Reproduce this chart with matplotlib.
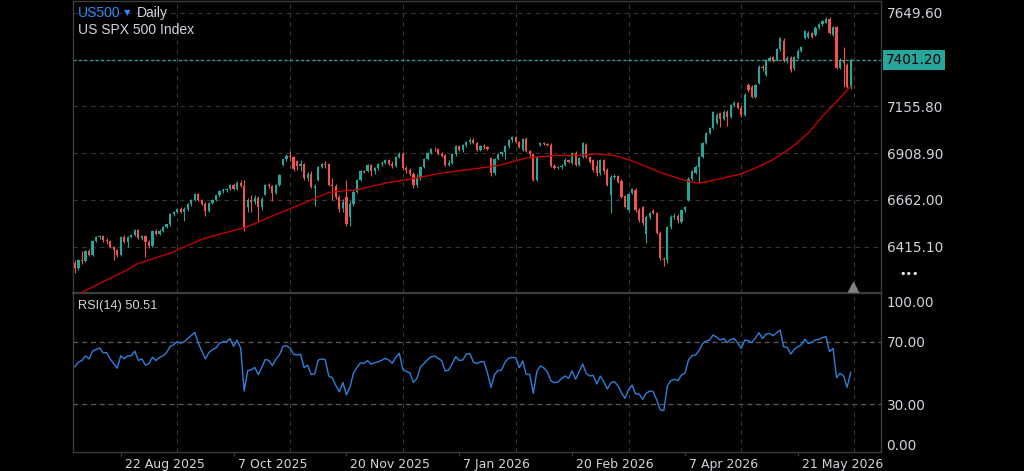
import numpy as np
import matplotlib.pyplot as plt
from matplotlib.transforms import ScaledTranslation, blended_transform_factory

# daily candles, US500 (one row = 10 sessions)
opens = [6330, 6300, 6345, 6340, 6390, 6373, 6446, 6466, 6469, 6450,
         6446, 6411, 6396, 6370, 6467, 6440, 6466, 6478, 6502, 6460,
         6470, 6440, 6420, 6500, 6482, 6500, 6520, 6532, 6585, 6598,
         6615, 6600, 6615, 6638, 6662, 6692, 6660, 6640, 6605, 6645,
         6662, 6685, 6708, 6715, 6718, 6742, 6720, 6752, 6736, 6625,
         6660, 6650, 6672, 6622, 6690, 6740, 6735, 6700, 6741, 6847,
         6876, 6892, 6888, 6865, 6842, 6852, 6775, 6800, 6725, 6768,
         6835, 6850, 6852, 6738, 6735, 6676, 6620, 6678, 6572, 6640,
         6705, 6766, 6815, 6812, 6845, 6812, 6828, 6850, 6857, 6872,
         6852, 6842, 6888, 6905, 6830, 6818, 6800, 6738, 6775, 6835,
         6878, 6910, 6932, 6928, 6906, 6900, 6847, 6858, 6902, 6945,
         6925, 6950, 6966, 6980, 6964, 6927, 6944, 6940, 6884, 6805,
         6876, 6905, 6912, 6945, 6978, 6992, 6965, 6925, 6985, 6918,
         6902, 6768, 6950, 6964, 6955, 6953, 6842, 6831, 6834, 6847,
         6874, 6858, 6911, 6847, 6889, 6953, 6889, 6874, 6840, 6805,
         6870, 6821, 6685, 6784, 6789, 6763, 6683, 6609, 6699, 6712,
         6609, 6625, 6480, 6572, 6604, 6593, 6487, 6350, 6345, 6519,
         6572, 6577, 6545, 6609, 6662, 6773, 6805, 6837, 6889, 6964,
         7016, 7040, 7069, 7122, 7091, 7128, 7101, 7165, 7175, 7149,
         7112, 7270, 7260, 7207, 7281, 7366, 7323, 7403, 7418, 7403,
         7456, 7503, 7403, 7413, 7360, 7413, 7450, 7519, 7524, 7545,
         7535, 7572, 7588, 7598, 7619, 7535, 7577, 7360, 7403, 7376,
         7260]
highs = [6345, 6350, 6390, 6398, 6400, 6450, 6472, 6478, 6476, 6458,
         6450, 6418, 6402, 6472, 6475, 6472, 6484, 6508, 6506, 6478,
         6476, 6448, 6505, 6508, 6506, 6526, 6536, 6590, 6605, 6620,
         6625, 6625, 6645, 6668, 6700, 6700, 6668, 6648, 6652, 6668,
         6690, 6712, 6722, 6725, 6748, 6750, 6760, 6765, 6765, 6672,
         6685, 6690, 6680, 6675, 6745, 6752, 6740, 6748, 6800, 6880,
         6905, 6922, 6895, 6872, 6870, 6858, 6810, 6812, 6745, 6840,
         6855, 6865, 6858, 6778, 6745, 6685, 6665, 6768, 6655, 6712,
         6772, 6820, 6822, 6852, 6850, 6838, 6858, 6865, 6880, 6878,
         6865, 6895, 6915, 6912, 6840, 6830, 6810, 6800, 6840, 6885,
         6915, 6938, 6940, 6935, 6912, 6905, 6870, 6908, 6950, 6952,
         6955, 6972, 6990, 6988, 6970, 6952, 6955, 6945, 6890, 6885,
         6910, 6920, 6952, 6985, 7000, 6998, 6972, 6990, 6992, 6925,
         6908, 6895, 6970, 6970, 6962, 6960, 6850, 6840, 6850, 6885,
         6880, 6915, 6918, 6890, 6970, 6960, 6895, 6880, 6872, 6878,
         6880, 6830, 6792, 6800, 6795, 6770, 6690, 6700, 6725, 6725,
         6620, 6632, 6580, 6600, 6612, 6600, 6495, 6360, 6525, 6580,
         6590, 6585, 6615, 6632, 6780, 6822, 6845, 6895, 6970, 7022,
         7046, 7132, 7118, 7128, 7135, 7135, 7170, 7182, 7180, 7155,
         7225, 7280, 7268, 7276, 7372, 7372, 7408, 7420, 7424, 7462,
         7520, 7515, 7420, 7420, 7424, 7456, 7477, 7558, 7552, 7550,
         7578, 7594, 7610, 7630, 7628, 7582, 7582, 7410, 7470, 7385,
         7410]
lows = [6275, 6290, 6325, 6335, 6365, 6368, 6438, 6455, 6440, 6430,
        6405, 6345, 6360, 6365, 6436, 6415, 6458, 6470, 6455, 6452,
        6362, 6410, 6415, 6475, 6476, 6494, 6512, 6525, 6576, 6590,
        6594, 6550, 6605, 6630, 6655, 6655, 6635, 6575, 6598, 6640,
        6655, 6678, 6700, 6705, 6712, 6712, 6715, 6728, 6500, 6600,
        6600, 6640, 6545, 6610, 6685, 6725, 6655, 6695, 6735, 6840,
        6868, 6865, 6815, 6820, 6815, 6765, 6760, 6725, 6632, 6760,
        6828, 6830, 6735, 6660, 6665, 6600, 6600, 6522, 6525, 6632,
        6700, 6760, 6803, 6808, 6790, 6800, 6822, 6842, 6850, 6845,
        6830, 6835, 6882, 6820, 6805, 6790, 6725, 6728, 6768, 6830,
        6872, 6905, 6920, 6900, 6890, 6840, 6840, 6850, 6895, 6918,
        6915, 6942, 6958, 6958, 6920, 6920, 6932, 6925, 6790, 6795,
        6870, 6895, 6880, 6938, 6970, 6960, 6935, 6918, 6912, 6895,
        6760, 6760, 6945, 6950, 6945, 6835, 6825, 6826, 6825, 6840,
        6855, 6850, 6840, 6840, 6882, 6885, 6855, 6810, 6790, 6795,
        6800, 6735, 6595, 6770, 6750, 6672, 6618, 6600, 6692, 6600,
        6545, 6530, 6435, 6560, 6585, 6480, 6345, 6315, 6330, 6510,
        6560, 6540, 6540, 6600, 6655, 6768, 6800, 6752, 6882, 6958,
        7010, 7035, 7060, 7048, 7085, 7050, 7095, 7158, 7140, 7100,
        7105, 7230, 7200, 7200, 7275, 7340, 7318, 7395, 7390, 7396,
        7450, 7390, 7385, 7335, 7345, 7408, 7445, 7512, 7518, 7515,
        7528, 7566, 7582, 7594, 7540, 7528, 7352, 7352, 7260, 7250,
        7245]
closes = [6300, 6345, 6340, 6390, 6373, 6446, 6466, 6469, 6450, 6446,
          6411, 6396, 6370, 6467, 6440, 6466, 6478, 6502, 6460, 6470,
          6440, 6420, 6500, 6482, 6500, 6520, 6532, 6585, 6598, 6615,
          6600, 6615, 6638, 6662, 6692, 6660, 6640, 6605, 6645, 6662,
          6685, 6708, 6715, 6718, 6742, 6720, 6752, 6736, 6515, 6660,
          6650, 6672, 6622, 6668, 6740, 6735, 6700, 6741, 6794, 6876,
          6892, 6888, 6825, 6842, 6852, 6775, 6800, 6732, 6735, 6835,
          6850, 6846, 6740, 6733, 6676, 6612, 6648, 6532, 6640, 6705,
          6766, 6815, 6810, 6845, 6812, 6828, 6850, 6857, 6872, 6852,
          6842, 6888, 6905, 6830, 6818, 6800, 6738, 6775, 6835, 6878,
          6910, 6932, 6928, 6906, 6896, 6847, 6858, 6902, 6945, 6925,
          6950, 6966, 6980, 6964, 6927, 6944, 6940, 6930, 6805, 6876,
          6905, 6912, 6945, 6978, 6992, 6965, 6940, 6985, 6918, 6902,
          6768, 6889, 6964, 6955, 6950, 6842, 6831, 6834, 6842, 6874,
          6862, 6911, 6847, 6884, 6964, 6889, 6863, 6821, 6805, 6870,
          6812, 6741, 6784, 6790, 6757, 6678, 6625, 6694, 6720, 6610,
          6558, 6540, 6572, 6593, 6593, 6487, 6355, 6342, 6519, 6572,
          6577, 6556, 6609, 6625, 6773, 6815, 6837, 6889, 6964, 7016,
          7040, 7125, 7112, 7091, 7128, 7101, 7165, 7175, 7149, 7112,
          7217, 7244, 7207, 7270, 7366, 7356, 7403, 7413, 7397, 7456,
          7514, 7397, 7410, 7350, 7418, 7450, 7471, 7551, 7545, 7524,
          7572, 7588, 7604, 7619, 7545, 7577, 7360, 7403, 7387, 7260,
          7401.2]

# moving average (session index, value)
ma_days = [0, 8, 13, 18, 27, 36, 49, 58, 65, 72, 77, 80, 89, 94, 104, 115,
           121, 128, 136, 143, 148, 153, 158, 167, 174, 177, 184, 189, 193,
           198, 203, 208, 212, 217, 220]
ma_vals = [6155, 6230, 6274, 6327, 6380, 6454, 6521, 6592, 6645, 6701, 6711,
           6715, 6754, 6768, 6803, 6830, 6847, 6883, 6896, 6896, 6905, 6896,
           6868, 6800, 6759, 6750, 6777, 6800, 6830, 6874, 6935, 7015, 7103,
           7200, 7262]

rsi = [54, 57, 58, 61, 59, 64, 65, 66, 63, 63,
       59, 56, 53, 61, 59, 61, 61, 64, 58, 59,
       55, 56, 60, 58, 60, 61, 63, 67, 68, 70,
       69, 70, 72, 74, 76, 69, 64, 59, 63, 65,
       66, 69, 70, 70, 72, 67, 71, 66, 38.5, 51.5,
       52, 53.6, 49, 53.6, 58.7, 58, 54.7, 58.9, 61.5, 67,
       67.4, 66, 62, 61.5, 62, 53.4, 55, 49, 49.4, 58.3,
       59, 58.5, 48, 47, 42, 38, 44, 36, 41, 50,
       53.5, 56.5, 56.2, 57.9, 55.7, 56.5, 57.2, 58.1, 59.4, 58.3,
       56.2, 60, 62.6, 52.3, 51, 50, 44, 46.6, 54, 56,
       58.5, 60.4, 60.8, 59.5, 57.9, 51.3, 51.9, 56, 60.4, 58,
       58.3, 62, 62.5, 57, 56, 57.2, 57.2, 50, 40.8, 49,
       51.6, 51.9, 57, 59.5, 60, 59.8, 53.4, 57.7, 49.1, 49.1,
       37, 51, 54.5, 53.3, 50.5, 45, 43.8, 44.2, 46.5, 48.1,
       46.6, 51.3, 46, 51, 55.7, 49.8, 48.1, 48.5, 43, 48,
       44.5, 39.8, 43.8, 44.5, 41.9, 37.4, 33.8, 39.1, 42.3, 36.6,
       36.6, 33.2, 37, 38.5, 38.1, 32.8, 26.4, 26, 41.7, 45.1,
       46, 45.1, 48.7, 49.8, 58.3, 61.1, 61.5, 64.3, 68.9, 70.4,
       71.1, 74.3, 72.8, 71.1, 72.1, 69.4, 71.5, 72.1, 68.9, 65.7,
       71.1, 70.6, 69.4, 72.6, 75.7, 72.1, 74.9, 75.3, 73.8, 75.7,
       77.4, 66.8, 66.4, 62.1, 65.1, 66.8, 67.9, 71.5, 68.9, 69.6,
       71.1, 71.5, 72.6, 73.2, 63.6, 65.7, 47, 49.8, 48.1, 40.8,
       50.51]

price_ticks = [6415.1, 6662.0, 6908.9, 7155.8, 7402.7, 7649.6]
rsi_ticks = [0, 30, 70, 100]
date_pos = [13, 45, 77, 109, 141, 173, 205]
date_labels = ['22 Aug 2025', '7 Oct 2025', '20 Nov 2025', '7 Jan 2026',
               '20 Feb 2026', '7 Apr 2026', '21 May 2026']
last_price = 7401.20
rsi_last = 50.51

UP = '#26a69a'
DOWN = '#ef5350'
TXT = '#d1d4dc'
GRID = '#363636'
FRAME = '#3c3c3c'

fig = plt.figure(figsize=(10.24, 4.71), dpi=100, facecolor='black')
ax = fig.add_axes([73/1024, 1 - 293/471, 808/1024, 292/471])
ax2 = fig.add_axes([73/1024, 1 - 452/471, 808/1024, 159/471], sharex=ax)

o = np.array(opens, float)
h = np.array(highs, float)
l = np.array(lows, float)
c = np.array(closes, float)
x = np.arange(len(c))
col = np.where(c >= o, UP, DOWN)

ax.vlines(x, l, h, colors=col, lw=0.8, zorder=3)
body = np.maximum(np.abs(c - o), 4)
ax.bar(x, body, bottom=np.minimum(o, c), width=0.62, color=col, linewidth=0, zorder=3)
ax.plot(ma_days, ma_vals, color='#c40000', lw=1.0, zorder=4)
ax.axhline(last_price, color=UP, lw=1.0, ls=(0, (2, 2)), zorder=2)

ax2.plot(x, rsi, color='#2f7fd8', lw=1.0, zorder=3)
for lvl in (70, 30):
    ax2.axhline(lvl, color='#5c5c5c', lw=0.9, ls=(0, (4, 3)), zorder=1)

grid_days = np.arange(13, len(c) + 1, 16)

for a in (ax, ax2):
    a.set_facecolor('black')
    for s in a.spines.values():
        s.set_color(FRAME)
        s.set_linewidth(1.0)
    a.set_xticks(grid_days, minor=True)
    a.grid(True, which='minor', axis='x', color=GRID, lw=0.8, ls=(0, (4, 4)))
    a.yaxis.tick_right()
    a.tick_params(axis='y', length=0, pad=4, labelsize=9.8, labelcolor=TXT)
ax.spines['bottom'].set_linewidth(1.6)

ax.set_xlim(-0.54, 228.6)
ax.set_ylim(6170, 7712)
ax2.set_ylim(-0.45, 101.1)

ax.set_yticks(price_ticks)
ax.set_yticklabels(['%.2f' % v if abs(v - last_price) > 5 else '' for v in price_ticks])
ax.grid(True, which='major', axis='y', color=GRID, lw=0.8, ls=(0, (4, 4)))
ax.tick_params(axis='x', which='both', length=0, labelbottom=False)

ax2.set_yticks(rsi_ticks)
ax2.set_yticklabels(['%.2f' % v for v in rsi_ticks])
# the 0 and 100 labels sit a little inside the panel
for lab, dy in zip(ax2.get_yticklabels(), [7, 0, 0, -7]):
    lab.set_transform(lab.get_transform() + ScaledTranslation(0, dy/100, fig.dpi_scale_trans))

ax2.set_xticks(date_pos)
ax2.set_xticklabels(date_labels)
ax2.tick_params(axis='x', which='major', length=3, color=FRAME, pad=1.5,
                labelsize=9, labelcolor=TXT)
ax2.tick_params(axis='x', which='minor', length=0)
shift = ScaledTranslation(4/100, 0, fig.dpi_scale_trans)
for lab in ax2.get_xticklabels():
    lab.set_ha('left')
    lab.set_transform(lab.get_transform() + shift)

# current price tag
tr = blended_transform_factory(ax.transAxes, ax.transData)
ax.text(1.0 + 5/808, last_price, '%.2f' % last_price, transform=tr, ha='left', va='center',
        fontsize=9.8, color='black', zorder=6,
        bbox=dict(boxstyle='square,pad=0.2', facecolor=UP, edgecolor='none'))

# header texts
fig.text(78/1024, 1 - 13/471, 'US500', color='#2a8cf0', fontsize=10,
         family=['Liberation Sans', 'DejaVu Sans'], va='center')
fig.text(124/1024, 1 - 13/471, '\u25bc', color='#2a8cf0', fontsize=6, va='center')
fig.text(137/1024, 1 - 13/471, 'Daily', color=TXT, fontsize=10,
         family=['Liberation Sans', 'DejaVu Sans'], va='center')
fig.text(78/1024, 1 - 30/471, 'US SPX 500 Index', color=TXT, fontsize=10,
         family=['Liberation Sans', 'DejaVu Sans'], va='center')
fig.text(78/1024, 1 - 306/471, 'RSI(14) %.2f' % rsi_last, color=TXT, fontsize=9.2,
         family=['Liberation Sans', 'DejaVu Sans'], va='center')

fig.text(899/1024, 1 - 274/471, '\u2022\u2022\u2022', color='white', fontsize=8, va='center')
ax.plot([len(c) - 0.4], [0.0], marker='^', ms=8, color='#808080',
        transform=blended_transform_factory(ax.transData, ax.transAxes)
        + ScaledTranslation(0, 5/100, fig.dpi_scale_trans),
        clip_on=False, zorder=5)

fig.savefig('out.png', dpi=100, facecolor='black')
